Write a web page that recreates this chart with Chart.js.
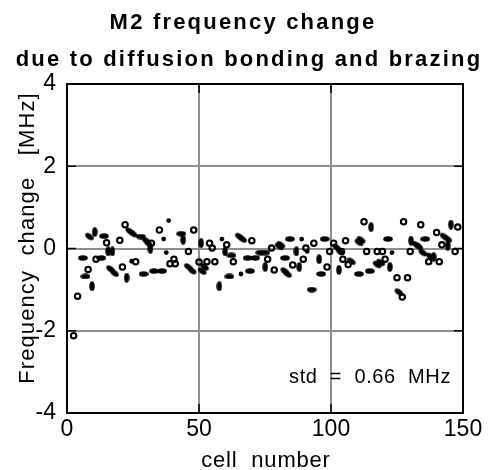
<!DOCTYPE html>
<html>
<head>
<meta charset="utf-8">
<script src="https://cdn.jsdelivr.net/npm/chart.js@4"></script>
<style>
  html, body { margin: 0; padding: 0; background: #fff; }
  canvas { display: block; }
</style>
</head>
<body>
<canvas id="graficoM2" width="492" height="470"></canvas>
<script>
// Datos: [celda, cambio de frecuencia MHz]
const circulos = [
  [2.5,-2.12],[4,-1.16],[8,-0.51],[11,-0.26],[15,0.14],[20,0.2],[22,0.58],[21,-0.45],[26,-0.32],
  [32,0.13],[35,0.45],[39,-0.37],[40.5,-0.26],[41,-0.37],[46,-0.07],[48,0.45],[50,-0.33],[53,-0.32],
  [54,0.13],[55,0.01],[56,-0.32],[60.5,0.09],[63,-0.32],[70,0.19],[76,-0.26],[77.5,0.01],[78.5,-0.52],
  [85.5,-0.4],[89.5,-0.26],[90.5,0.01],[93.5,0.13],[98.5,-0.45],[99.5,-0.07],[101,0.13],[104,-0.07],
  [104.5,-0.26],[105.5,0.19],[106.5,-0.39],[112.5,0.65],[113.5,-0.07],[117.5,-0.07],[119.5,-0.07],
  [120.5,-0.26],[125,-0.71],[127,-1.18],[127.5,0.65],[129,-0.71],[130,-0.07],[134,0.58],[137,-0.32],
  [140,0.39],[141,-0.32],[142,0.09],[147,-0.07],[148,0.52]
];
const elipsesH = [
  [6,-0.23],[7,-0.68],[13,-0.23],[14,0.3],[28,0.29],[29,-0.62],[33,-0.55],[36,-0.55],[43.3,0.36],
  [61.5,-0.68],[62.3,-0.17],[68.4,-0.23],[69.3,-0.55],[71.3,-0.23],[73.2,-0.1],[75.1,-0.1],[82.6,-0.23],
  [84.4,0.23],[92.7,-1.0],[96.3,-0.62],[97.6,0.23],[110.6,-0.62],[114.7,-0.55],[121.6,0.23],[135.7,0.23]
];
const elipsesV = [
  [9.5,-0.92],[10.5,0.4],[15.6,-0.07],[17.2,-0.07],[22.6,-0.71],[31.6,-0.01],[44,0.21],[50.8,0.13],
  [57.7,-0.92],[59.9,-0.07],[75.1,-0.45],[86.9,-0.07],[88,-0.45],[95.5,-0.26],[103,-0.52],[115.2,0.52],
  [122.3,-0.45],[130.3,0.19],[138.9,-0.21],[144.2,0.07],[145.4,0.58]
];
const elipsesD = [
  [8.5,0.29],[23.8,0.42],[25,0.36],[30,0.19],[31,0.11],[16.5,-0.5],[18,-0.6],[46,-0.45],[47.4,-0.54],
  [51.2,-0.55],[52.1,-0.45],[65.3,0.29],[66.5,0.23],[80.4,0.05],[81,0.09],[82.5,-0.55],[83.5,-0.62],
  [102.1,0.03],[103.4,-0.07],[107.7,-0.31],[110.6,0.15],[111.4,0.21],[117.5,-0.39],[118.8,-0.34],
  [125.7,-1.06],[132.3,0.09],[133.2,0.05],[134.8,-0.1],[137.6,-0.19],[142.9,0.29],[144.2,0.23]
];
const puntos = [
  [24.5,-0.31],[36.6,0.23],[37.6,-0.1],[38.5,0.68],[58.7,0.23],[65.9,-0.62],[88.9,0.23],[91,-0.07],[123.1,-0.1]
];
const ticksX = [0, 50, 100, 150];
const ticksY = [-4, -2, 0, 2, 4];
const titulo = ['M2 frequency change', 'due to diffusion bonding and brazing'];
const tituloX = 'cell  number';
const tituloY = 'Frequency  change   [MHz]';
const textoStd = 'std  =  0.66  MHz';

const toXY = arr => arr.map(p => ({ x: p[0], y: p[1] }));

// Marcador elíptico relleno
function elipse(w, h) {
  const c = document.createElement('canvas');
  c.width = w; c.height = h;
  const g = c.getContext('2d');
  g.fillStyle = '#000';
  g.beginPath();
  g.ellipse(w / 2, h / 2, w / 2 - 0.2, h / 2 - 0.2, 0, 0, 2 * Math.PI);
  g.fill();
  return c;
}
const marcaElipse = elipse(10, 6);

// Textos, marco y marcas interiores
const textos = {
  id: 'textos',
  afterDraw(chart) {
    const ctx = chart.ctx;
    const a = chart.chartArea;
    const sx = chart.scales.x, sy = chart.scales.y;
    ctx.save();
    ctx.strokeStyle = '#000';
    ctx.lineWidth = 1.5;
    ctx.beginPath();
    ticksX.slice(1, -1).forEach(v => {
      const px = sx.getPixelForValue(v);
      ctx.moveTo(px, a.bottom); ctx.lineTo(px, a.bottom - 9);
      ctx.moveTo(px, a.top); ctx.lineTo(px, a.top + 9);
    });
    ticksY.slice(1, -1).forEach(v => {
      const py = sy.getPixelForValue(v);
      ctx.moveTo(a.left, py); ctx.lineTo(a.left + 9, py);
      ctx.moveTo(a.right, py); ctx.lineTo(a.right - 9, py);
    });
    ctx.stroke();
    ctx.lineWidth = 2;
    ctx.strokeRect(a.left, a.top, a.right - a.left, a.bottom - a.top);

    ctx.fillStyle = '#000';
    ctx.textBaseline = 'alphabetic';
    ctx.textAlign = 'center';
    ctx.font = 'bold 22px "Liberation Sans", Arial, sans-serif';
    ctx.letterSpacing = '2.2px';
    ctx.fillText(titulo[0], 243, 29);
    ctx.fillText(titulo[1], 249, 66);

    ctx.font = '22px "Liberation Sans", Arial, sans-serif';
    ctx.letterSpacing = '0.8px';
    ctx.fillText(tituloX, (a.left + a.right) / 2 + 1, 467);

    ctx.save();
    ctx.translate(34, 238);
    ctx.rotate(-Math.PI / 2);
    ctx.letterSpacing = '1.1px';
    ctx.fillText(tituloY, 0, 0);
    ctx.restore();

    ctx.font = '20px "Liberation Sans", Arial, sans-serif';
    ctx.letterSpacing = '0.6px';
    ctx.textAlign = 'right';
    ctx.fillText(textoStd, 451, 383);
    ctx.restore();
  }
};

const fuenteTicks = { family: '"Liberation Sans", Arial, sans-serif', size: 23 };
const ctx = document.getElementById('graficoM2').getContext('2d');
new Chart(ctx, {
  type: 'scatter',
  data: {
    datasets: [
      { data: toXY(circulos), pointStyle: 'circle', pointRadius: 2.7, borderWidth: 2.1,
        borderColor: '#000', backgroundColor: 'rgba(0,0,0,0)' },
      { data: toXY(elipsesH), pointStyle: marcaElipse, pointRotation: 0 },
      { data: toXY(elipsesV), pointStyle: marcaElipse, pointRotation: 90 },
      { data: toXY(elipsesD), pointStyle: marcaElipse, pointRotation: 35 },
      { data: toXY(puntos), pointStyle: 'circle', pointRadius: 2.4, borderWidth: 0,
        backgroundColor: '#000' }
    ]
  },
  options: {
    responsive: false,
    animation: false,
    events: [],
    layout: { padding: { top: 84, right: 29, bottom: 0, left: 0 } },
    plugins: { legend: { display: false }, tooltip: { enabled: false }, title: { display: false } },
    scales: {
      x: {
        type: 'linear', min: 0, max: 150,
        afterBuildTicks: s => { s.ticks = ticksX.map(v => ({ value: v })); },
        ticks: { color: '#000', font: fuenteTicks, padding: 3, maxRotation: 0 },
        grid: { color: '#8f8f8f', lineWidth: 2, drawTicks: false },
        border: { display: false },
        afterFit: s => { s.height = 57; s.paddingLeft = 0; s.paddingRight = 0; }
      },
      y: {
        type: 'linear', min: -4, max: 4,
        afterBuildTicks: s => { s.ticks = ticksY.map(v => ({ value: v })); },
        ticks: { color: '#000', font: fuenteTicks, padding: 11 },
        grid: { color: '#8f8f8f', lineWidth: 2, drawTicks: false },
        border: { display: false },
        afterFit: s => { s.width = 67; s.paddingTop = 0; s.paddingBottom = 0; }
      }
    }
  },
  plugins: [textos]
});
</script>
</body>
</html>
